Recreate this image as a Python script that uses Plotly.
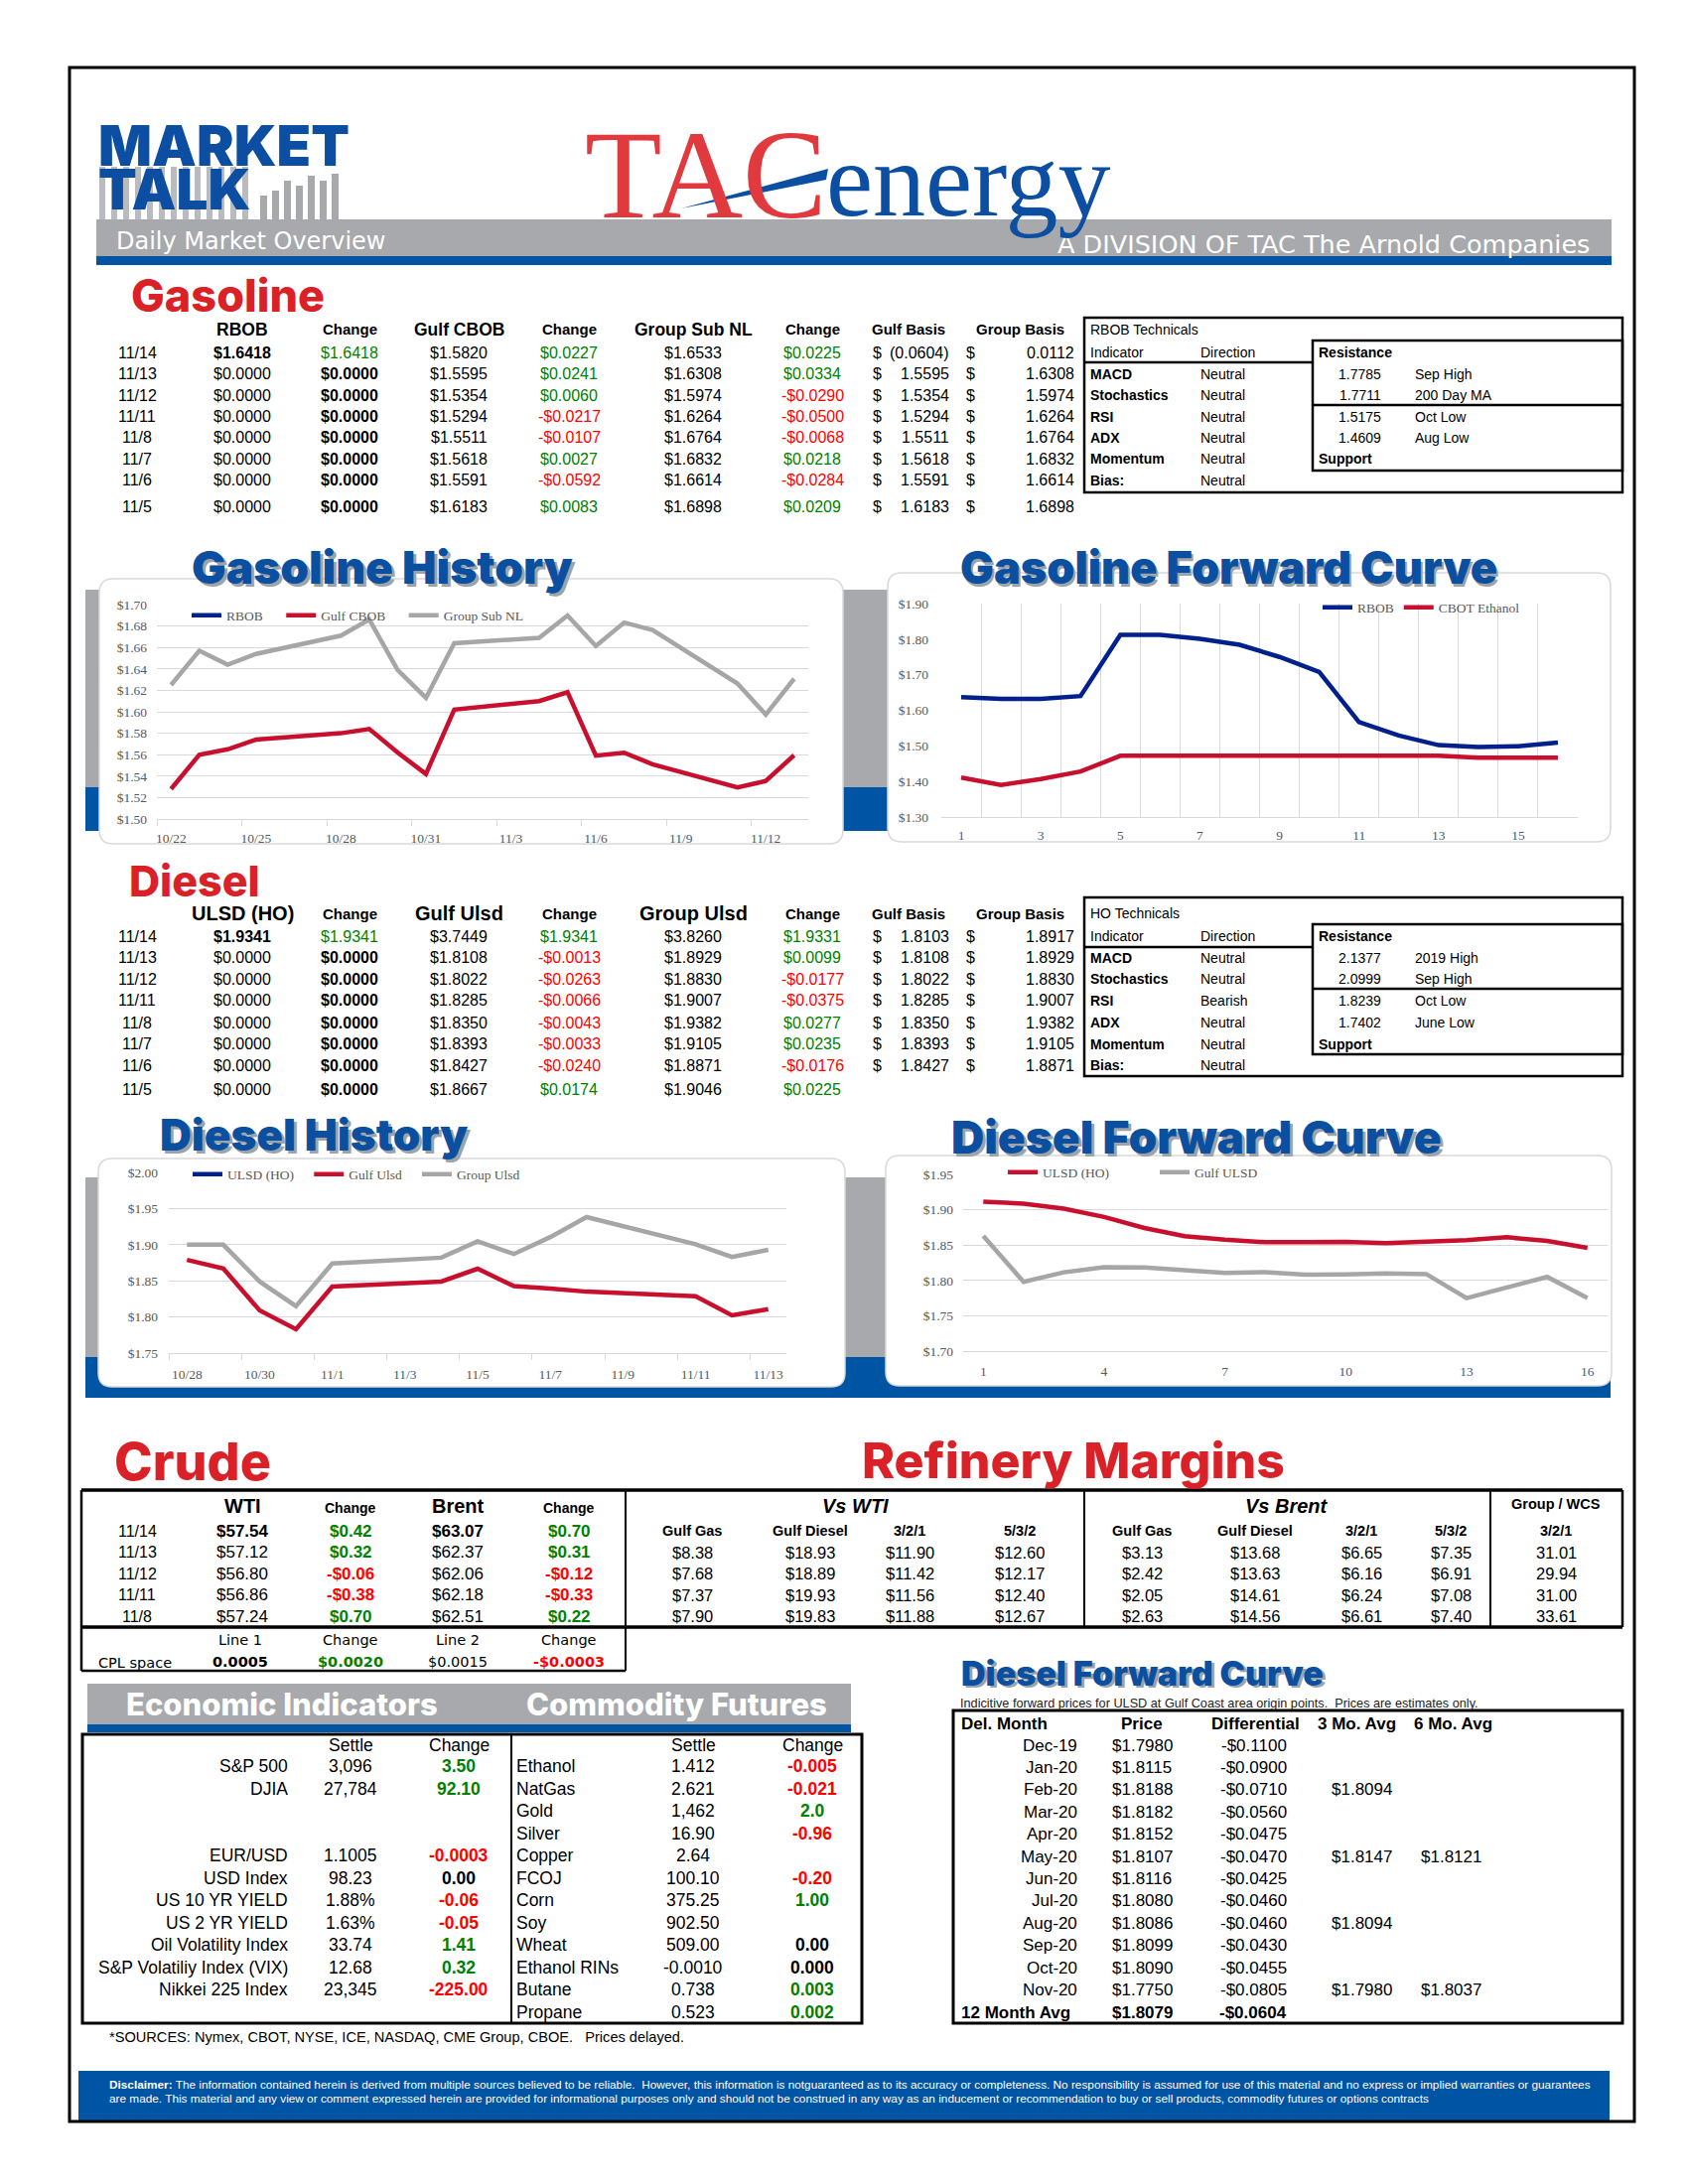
import plotly.graph_objects as go

W, H = 1700, 2200

NAVY = '#00208C'
LINE_RED = '#C8102E'
LINE_GRAY = '#A6A6A6'
TITLE_BLUE = '#0B50A0'
SEC_RED = '#DA2128'
BAND_GRAY = '#A7A9AC'
BAND_BLUE = '#0054A4'
GREEN = '#008000'
RED = '#FF0000'
GRID = '#D9D9D9'
AX_TXT = '#595959'

SANS = 'Liberation Sans, Arial, sans-serif'
SERIF = 'Liberation Serif, Times New Roman, serif'
HEAVY = 'Inter, Roboto, sans-serif'
VERD = 'DejaVu Sans, Verdana, sans-serif'
NB = '\u00a0'

# ---------------- gasoline table ----------------
gas_dates = ['11/14', '11/13', '11/12', '11/11', '11/8', '11/7', '11/6', '11/5']
rbob = [1.6418, 0.0, 0.0, 0.0, 0.0, 0.0, 0.0, 0.0]
rbob_chg = [1.6418, 0.0, 0.0, 0.0, 0.0, 0.0, 0.0, 0.0]
gulf_cbob = [1.5820, 1.5595, 1.5354, 1.5294, 1.5511, 1.5618, 1.5591, 1.6183]
gulf_cbob_chg = [0.0227, 0.0241, 0.0060, -0.0217, -0.0107, 0.0027, -0.0592, 0.0083]
group_subnl = [1.6533, 1.6308, 1.5974, 1.6264, 1.6764, 1.6832, 1.6614, 1.6898]
group_subnl_chg = [0.0225, 0.0334, -0.0290, -0.0500, -0.0068, 0.0218, -0.0284, 0.0209]
gas_gulf_basis = [-0.0604, 1.5595, 1.5354, 1.5294, 1.5511, 1.5618, 1.5591, 1.6183]
gas_group_basis = [0.0112, 1.6308, 1.5974, 1.6264, 1.6764, 1.6832, 1.6614, 1.6898]

tech_indicators = ['MACD', 'Stochastics', 'RSI', 'ADX', 'Momentum', 'Bias:']
rbob_tech_dir = ['Neutral', 'Neutral', 'Neutral', 'Neutral', 'Neutral', 'Neutral']
rbob_levels = [1.7785, 1.7711, 1.5175, 1.4609]
rbob_level_names = ['Sep High', '200 Day MA', 'Oct Low', 'Aug Low']

# ---------------- diesel table ----------------
dsl_dates = ['11/14', '11/13', '11/12', '11/11', '11/8', '11/7', '11/6', '11/5']
ulsd = [1.9341, 0.0, 0.0, 0.0, 0.0, 0.0, 0.0, 0.0]
ulsd_chg = [1.9341, 0.0, 0.0, 0.0, 0.0, 0.0, 0.0, 0.0]
gulf_ulsd = [3.7449, 1.8108, 1.8022, 1.8285, 1.8350, 1.8393, 1.8427, 1.8667]
gulf_ulsd_chg = [1.9341, -0.0013, -0.0263, -0.0066, -0.0043, -0.0033, -0.0240, 0.0174]
group_ulsd = [3.8260, 1.8929, 1.8830, 1.9007, 1.9382, 1.9105, 1.8871, 1.9046]
group_ulsd_chg = [1.9331, 0.0099, -0.0177, -0.0375, 0.0277, 0.0235, -0.0176, 0.0225]
dsl_gulf_basis = [1.8103, 1.8108, 1.8022, 1.8285, 1.8350, 1.8393, 1.8427]
dsl_group_basis = [1.8917, 1.8929, 1.8830, 1.9007, 1.9382, 1.9105, 1.8871]

ho_tech_dir = ['Neutral', 'Neutral', 'Bearish', 'Neutral', 'Neutral', 'Neutral']
ho_levels = [2.1377, 2.0999, 1.8239, 1.7402]
ho_level_names = ['2019 High', 'Sep High', 'Oct Low', 'June Low']

# ---------------- charts ----------------
gas_hist_dates = ['2019-10-22', '2019-10-23', '2019-10-24', '2019-10-25', '2019-10-28', '2019-10-29',
                  '2019-10-30', '2019-10-31', '2019-11-01', '2019-11-04', '2019-11-05', '2019-11-06',
                  '2019-11-07', '2019-11-08', '2019-11-11', '2019-11-12', '2019-11-13']
hist_rbob = [0, 0, 0, 0, 0, 0, 0, 0, 0, 0, 0, 0, 0, 0, 0, 0, 0]
hist_gulf_cbob = [1.528, 1.560, 1.565, 1.574, 1.580, 1.584, 1.562, 1.542, 1.602, 1.610,
                  1.6183, 1.5591, 1.5618, 1.5511, 1.5294, 1.5354, 1.5595]
hist_group_subnl = [1.625, 1.657, 1.644, 1.654, 1.671, 1.686, 1.639, 1.613, 1.664, 1.669,
                    1.6898, 1.6614, 1.6832, 1.6764, 1.6264, 1.5974, 1.6308]
gas_hist_tickvals = ['2019-10-22', '2019-10-25', '2019-10-28', '2019-10-31',
                     '2019-11-03', '2019-11-06', '2019-11-09', '2019-11-12']
gas_hist_ticktext = ['10/22', '10/25', '10/28', '10/31', '11/3', '11/6', '11/9', '11/12']

fwd_month = [1, 2, 3, 4, 5, 6, 7, 8, 9, 10, 11, 12, 13, 14, 15, 16]
fwd_rbob = [1.637, 1.632, 1.632, 1.640, 1.812, 1.812, 1.801, 1.784, 1.750, 1.708,
            1.567, 1.529, 1.502, 1.497, 1.499, 1.509]
fwd_ethanol = [1.411, 1.390, 1.407, 1.428, 1.472, 1.472, 1.472, 1.472, 1.472, 1.472,
               1.472, 1.472, 1.472, 1.467, 1.467, 1.467]
gas_fwd_ticks = [1, 3, 5, 7, 9, 11, 13, 15]

dsl_hist_dates = ['2019-10-28', '2019-10-29', '2019-10-30', '2019-10-31', '2019-11-01', '2019-11-04',
                  '2019-11-05', '2019-11-06', '2019-11-07', '2019-11-08', '2019-11-11', '2019-11-12',
                  '2019-11-13']
hist_ulsd = [0, 0, 0, 0, 0, 0, 0, 0, 0, 0, 0, 0, 0]
hist_gulf_ulsd = [1.879, 1.867, 1.809, 1.783, 1.842, 1.849, 1.8667, 1.8427, 1.8393, 1.8350,
                  1.8285, 1.8022, 1.8108]
hist_group_ulsd = [1.900, 1.900, 1.849, 1.815, 1.874, 1.882, 1.9046, 1.8871, 1.9105, 1.9382,
                   1.9007, 1.8830, 1.8929]
dsl_hist_tickvals = ['2019-10-28', '2019-10-30', '2019-11-01', '2019-11-03', '2019-11-05',
                     '2019-11-07', '2019-11-09', '2019-11-11', '2019-11-13']
dsl_hist_ticktext = ['10/28', '10/30', '11/1', '11/3', '11/5', '11/7', '11/9', '11/11', '11/13']

dfwd_ulsd = [1.9115, 1.9086, 1.9015, 1.8898, 1.8742, 1.8627, 1.8577, 1.8541, 1.8540, 1.8546,
             1.8529, 1.8545, 1.8570, 1.861, 1.856, 1.846]
dfwd_gulf = [1.863, 1.7980, 1.8115, 1.8188, 1.8182, 1.8152, 1.8107, 1.8116, 1.8080, 1.8086,
             1.8099, 1.8090, 1.7750, 1.790, 1.805, 1.775]
dsl_fwd_ticks = [1, 4, 7, 10, 13, 16]

# ---------------- crude / margins ----------------
crude_dates = ['11/14', '11/13', '11/12', '11/11', '11/8']
wti = [57.54, 57.12, 56.80, 56.86, 57.24]
wti_chg = [0.42, 0.32, -0.06, -0.38, 0.70]
brent = [63.07, 62.37, 62.06, 62.18, 62.51]
brent_chg = [0.70, 0.31, -0.12, -0.33, 0.22]
wti_gulf_gas = [8.38, 7.68, 7.37, 7.90]
wti_gulf_diesel = [18.93, 18.89, 19.93, 19.83]
wti_321 = [11.90, 11.42, 11.56, 11.88]
wti_532 = [12.60, 12.17, 12.40, 12.67]
brent_gulf_gas = [3.13, 2.42, 2.05, 2.63]
brent_gulf_diesel = [13.68, 13.63, 14.61, 14.56]
brent_321 = [6.65, 6.16, 6.24, 6.61]
brent_532 = [7.35, 6.91, 7.08, 7.40]
wcs_321 = [31.01, 29.94, 31.00, 33.61]
cpl_line1, cpl_line1_chg, cpl_line2, cpl_line2_chg = 0.0005, 0.0020, 0.0015, -0.0003

# ---------------- economic / commodity ----------------
econ_names = ['S&P 500', 'DJIA', '', '', 'EUR/USD', 'USD Index', 'US 10 YR YIELD', 'US 2 YR YIELD',
              'Oil Volatility Index', 'S&P Volatiliy Index (VIX)', 'Nikkei 225 Index']
econ_settle = ['3,096', '27,784', '', '', '1.1005', '98.23', '1.88%', '1.63%', '33.74', '12.68', '23,345']
econ_chg = [3.50, 92.10, None, None, -0.0003, 0.00, -0.06, -0.05, 1.41, 0.32, -225.00]
econ_dec = [2, 2, 0, 0, 4, 2, 2, 2, 2, 2, 2]
comm_names = ['Ethanol', 'NatGas', 'Gold', 'Silver', 'Copper', 'FCOJ', 'Corn', 'Soy', 'Wheat',
              'Ethanol RINs', 'Butane', 'Propane']
comm_settle = ['1.412', '2.621', '1,462', '16.90', '2.64', '100.10', '375.25', '902.50', '509.00',
               '-0.0010', '0.738', '0.523']
comm_chg = [-0.005, -0.021, 2.0, -0.96, None, -0.20, 1.00, None, 0.00, 0.000, 0.003, 0.002]
comm_dec = [3, 3, 1, 2, 0, 2, 2, 0, 2, 3, 3, 3]

# ---------------- diesel forward table ----------------
tbl_months = ['Dec-19', 'Jan-20', 'Feb-20', 'Mar-20', 'Apr-20', 'May-20', 'Jun-20', 'Jul-20',
              'Aug-20', 'Sep-20', 'Oct-20', 'Nov-20']
tbl_price = [1.7980, 1.8115, 1.8188, 1.8182, 1.8152, 1.8107, 1.8116, 1.8080, 1.8086, 1.8099, 1.8090, 1.7750]
tbl_diff = [-0.1100, -0.0900, -0.0710, -0.0560, -0.0475, -0.0470, -0.0425, -0.0460, -0.0460,
            -0.0430, -0.0455, -0.0805]
tbl_3mo = [None, None, 1.8094, None, None, 1.8147, None, None, 1.8094, None, None, 1.7980]
tbl_6mo = [None, None, None, None, None, 1.8121, None, None, None, None, None, 1.8037]
avg12_price, avg12_diff = 1.8079, -0.0604

# ---------------- helpers ----------------
ann = []
shp = []


def T(x, y, s, size=16, color='#000', anchor='center', fam=SANS, bold=False, weight=None, height=None):
    if bold:
        s = '<b>' + s + '</b>'
    f = dict(size=size, color=color, family=fam)
    if weight:
        f['weight'] = weight
    a = dict(x=x / W, y=1 - y / H, xref='paper', yref='paper', text=s, showarrow=False,
             xanchor=anchor, yanchor='middle', font=f)
    if height:
        a['height'] = height
    ann.append(a)


def R(x0, y0, x1, y1, fill='rgba(0,0,0,0)', line='rgba(0,0,0,0)', lw=0, layer='below'):
    shp.append(dict(type='rect', xref='paper', yref='paper', x0=x0 / W, x1=x1 / W, y0=1 - y0 / H,
                    y1=1 - y1 / H, fillcolor=fill, line=dict(color=line, width=lw), layer=layer))


def L(x0, y0, x1, y1, color='#000', lw=2.5):
    shp.append(dict(type='line', xref='paper', yref='paper', x0=x0 / W, x1=x1 / W, y0=1 - y0 / H,
                    y1=1 - y1 / H, line=dict(color=color, width=lw), layer='above'))


def pp(x, y):
    return f'{x / W:.5f},{1 - y / H:.5f}'


def RR(x0, y0, x1, y1, r=14):
    path = (f'M {pp(x0 + r, y0)} L {pp(x1 - r, y0)} Q {pp(x1, y0)} {pp(x1, y0 + r)} '
            f'L {pp(x1, y1 - r)} Q {pp(x1, y1)} {pp(x1 - r, y1)} L {pp(x0 + r, y1)} '
            f'Q {pp(x0, y1)} {pp(x0, y1 - r)} L {pp(x0, y0 + r)} Q {pp(x0, y0)} {pp(x0 + r, y0)} Z')
    shp.append(dict(type='path', xref='paper', yref='paper', path=path, fillcolor='white',
                    line=dict(color=GRID, width=1.5), layer='below'))


def money(v, d):
    return f'-${abs(v):.{d}f}' if v < 0 else f'${v:.{d}f}'


def acct(v):
    return f'({abs(v):.4f})' if v < 0 else f'{v:.4f}'


def scol(v):
    return GREEN if v > 0 else (RED if v < 0 else '#000')


def title_shadow(x, y, s, size, anchor='center', color=TITLE_BLUE, height=None):
    T(x + 2.5, y + 3, s, size, '#9DA3AA', anchor, HEAVY, weight=900, height=height)
    T(x, y, s, size, color, anchor, HEAVY, weight=900, height=height)


# ---------------- page frame & header ----------------
R(70, 68, 1646, 2137, line='#000', lw=3, layer='above')
for bx in range(100, 252, 12):
    R(bx, 168, bx + 6, 222, fill='#B9BBBE')
for bx, bt in [(262, 197), (274, 192), (286, 182), (298, 187), (310, 177), (322, 182), (334, 175)]:
    R(bx, bt, bx + 7, 222, fill='#A7A9AC')
R(97, 221, 1623, 258, fill=BAND_GRAY)
R(97, 258, 1623, 267, fill=BAND_BLUE)
T(97, 146, 'MARKET', 56.5, '#0B4EA2', 'left', HEAVY, weight=900, height=42)
T(97, 190, 'TALK', 56.5, '#0B4EA2', 'left', HEAVY, weight=900, height=42)
T(115, 243, 'Daily Market Overview', 24, 'white', 'left', VERD)
T(1603, 246, 'A DIVISION OF TAC The Arnold Companies', 25.5, 'white', 'right', VERD)
T(587, 176, 'TAC', 127, '#E03A3E', 'left', SERIF)
T(830, 181, 'energy', 106, '#0B4EA2', 'left', SERIF)
shp.append(dict(type='path', xref='paper', yref='paper',
                path=f'M {pp(686, 210)} L {pp(834, 170)} L {pp(832, 181)} Z',
                fillcolor='#0B4EA2', line=dict(width=0), layer='above'))

# ---------------- product tables ----------------
COLS = [244, 352, 462, 573, 698, 818]


def product_table(hdr_y, rows_y, heads, head_sizes, dates, main, main_chg, gulf, gulf_chg,
                  grp, grp_chg, basis_g, basis_grp):
    for cx, h, sz in zip(COLS, heads, head_sizes):
        T(cx, hdr_y, h, sz, bold=True)
    T(915, hdr_y, 'Gulf Basis', 15, bold=True)
    T(1027, hdr_y, 'Group Basis', 15, bold=True)
    for i, ry in enumerate(rows_y):
        T(138, ry, dates[i])
        T(COLS[0], ry, money(main[i], 4), bold=(i == 0))
        T(COLS[2], ry, money(gulf[i], 4))
        T(COLS[4], ry, money(grp[i], 4))
        for cx, v in ((COLS[1], main_chg[i]), (COLS[3], gulf_chg[i]), (COLS[5], grp_chg[i])):
            T(cx, ry, money(v, 4), color=scol(v), bold=(v == 0))
        if i < len(basis_g):
            T(883, ry, '$')
            T(958, ry, acct(basis_g[i]), anchor='right')
            T(977, ry, '$')
            T(1084, ry, acct(basis_grp[i]), anchor='right')


def tech_box(top, bot, res_top, res_mid, res_bot, ind_line, hdr_y, rows_y, title, dirs, levels, names):
    x0, x1, xm = 1092, 1634, 1322
    R(x0, top, x1, bot, line='#000', lw=2.5, layer='above')
    L(x0, ind_line, xm, ind_line)
    R(xm, res_top, x1, res_bot, line='#000', lw=2.5, layer='above')
    L(xm, res_mid, x1, res_mid)
    T(1096, hdr_y, title, 14, anchor='left')
    T(1096, rows_y[0], 'Indicator', 14, anchor='left')
    T(1207, rows_y[0], 'Direction', 14, anchor='left')
    T(1326, rows_y[0], 'Resistance', 14, anchor='left', bold=True)
    for k, nm in enumerate(tech_indicators):
        T(1096, rows_y[k + 1], nm, 14, anchor='left', bold=True)
        T(1207, rows_y[k + 1], dirs[k], 14, anchor='left')
    for k, v in enumerate(levels):
        T(1393, rows_y[k + 1], f'{v:.4f}', 14, anchor='right')
        T(1423, rows_y[k + 1], names[k], 14, anchor='left')
    T(1326, rows_y[5], 'Support', 14, anchor='left', bold=True)


T(130, 297, 'Gasoline', 45, SEC_RED, 'left', HEAVY, weight=800)
gas_rows = [355, 376.5, 398, 419.5, 441, 462.5, 484, 510]
product_table(332, gas_rows, ['RBOB', 'Change', 'Gulf CBOB', 'Change', 'Group Sub NL', 'Change'],
              [17.5, 15, 17.5, 15, 17.5, 15], gas_dates, rbob, rbob_chg, gulf_cbob, gulf_cbob_chg,
              group_subnl, group_subnl_chg, gas_gulf_basis, gas_group_basis)
tech_box(320, 496, 343, 408, 474, 365, 332, gas_rows, 'RBOB Technicals', rbob_tech_dir,
         rbob_levels, rbob_level_names)

T(128, 887, 'Diesel', 43, SEC_RED, 'left', HEAVY, weight=800)
dsl_rows = [943, 964.5, 986, 1007.5, 1030, 1051.5, 1073, 1097]
product_table(920, dsl_rows, ['ULSD (HO)', 'Change', 'Gulf Ulsd', 'Change', 'Group Ulsd', 'Change'],
              [20, 15, 20, 15, 20, 15], dsl_dates, ulsd, ulsd_chg, gulf_ulsd, gulf_ulsd_chg,
              group_ulsd, group_ulsd_chg, dsl_gulf_basis, dsl_group_basis)
tech_box(904, 1084, 931, 996, 1062, 954, 920, dsl_rows, 'HO Technicals', ho_tech_dir,
         ho_levels, ho_level_names)

# ---------------- chart frames ----------------
R(86, 594, 894, 793, fill=BAND_GRAY)
R(86, 793, 894, 837, fill=BAND_BLUE)
RR(100, 583, 849, 850)
RR(894, 577, 1622, 848)
R(86, 1186, 1622, 1367, fill=BAND_GRAY)
R(86, 1367, 1622, 1408, fill=BAND_BLUE)
RR(99, 1167, 851, 1397)
RR(892, 1164, 1623, 1396)
title_shadow(385, 571, 'Gasoline History', 46)
title_shadow(1237, 571, 'Gasoline Forward Curve', 45)
title_shadow(316, 1143, 'Diesel History', 44)
title_shadow(1205, 1145, 'Diesel Forward Curve', 46, height=38)

# ---------------- crude & margins ----------------
T(113, 1472, 'Crude', 52, SEC_RED, 'left', HEAVY, weight=800)
T(866, 1471, 'Refinery Margins', 50, SEC_RED, 'left', HEAVY, weight=800)
L(82, 1501, 1634, 1501, lw=3.5)
L(82, 1639, 1634, 1639, lw=3.5)
L(82, 1501, 82, 1683, lw=2.5)
L(1634, 1501, 1634, 1639, lw=2.5)
L(630, 1501, 630, 1683, lw=2)
L(1092, 1501, 1092, 1639, lw=2)
L(1501, 1501, 1501, 1639, lw=2)
L(82, 1683, 630, 1683, lw=2.5)

T(244, 1517, 'WTI', 20, bold=True)
T(353, 1519, 'Change', 14, bold=True)
T(461, 1517, 'Brent', 20, bold=True)
T(573, 1519, 'Change', 14, bold=True)
crude_rows = [1542, 1563.5, 1585, 1606.5, 1628]
for i, ry in enumerate(crude_rows):
    T(138, ry, crude_dates[i])
    T(244, ry, money(wti[i], 2), 17, bold=(i == 0))
    T(353, ry, money(wti_chg[i], 2), 17, scol(wti_chg[i]), bold=True)
    T(461, ry, money(brent[i], 2), 17, bold=(i == 0))
    T(573, ry, money(brent_chg[i], 2), 17, scol(brent_chg[i]), bold=True)

T(861, 1517, '<i>Vs WTI</i>', 20, bold=True)
T(1296, 1517, '<i>Vs Brent</i>', 20, bold=True)
T(1567, 1515, 'Group / WCS', 14.5, bold=True)
sub_x = [697, 816, 916, 1027, 1150, 1264, 1371, 1461, 1567]
sub_t = ['Gulf Gas', 'Gulf Diesel', '3/2/1', '5/3/2', 'Gulf Gas', 'Gulf Diesel', '3/2/1', '5/3/2', '3/2/1']
for sx, st in zip(sub_x, sub_t):
    T(sx, 1542, st, 14.5, bold=True)
margin_cols = [wti_gulf_gas, wti_gulf_diesel, wti_321, wti_532,
               brent_gulf_gas, brent_gulf_diesel, brent_321, brent_532]
for sx, col in zip(sub_x, margin_cols):
    for k, v in enumerate(col):
        T(sx, crude_rows[k + 1], f'${v:.2f}', 16.5)
for k, v in enumerate(wcs_321):
    T(1567, crude_rows[k + 1], f'{v:.2f}', 16.5)

T(242, 1652, 'Line 1', 14.5, fam=VERD)
T(353, 1652, 'Change', 14.5, fam=VERD)
T(461, 1652, 'Line 2', 14.5, fam=VERD)
T(573, 1652, 'Change', 14.5, fam=VERD)
T(97, 1675, 'CPL space', 14.5, anchor='left', fam=VERD)
T(242, 1674, f'{cpl_line1:.4f}', 14.5, fam=VERD, bold=True)
T(353, 1674, money(cpl_line1_chg, 4), 14.5, scol(cpl_line1_chg), fam=VERD, bold=True)
T(461, 1674, money(cpl_line2, 4), 14.5, fam=VERD)
T(573, 1674, money(cpl_line2_chg, 4), 14.5, scol(cpl_line2_chg), fam=VERD, bold=True)

# ---------------- economic indicators / commodity futures ----------------
R(88, 1696, 857, 1737, fill=BAND_GRAY)
R(88, 1737, 857, 1745, fill=BAND_BLUE)
T(284, 1716, 'Economic Indicators', 31, 'white', fam=HEAVY, weight=800)
T(681, 1717, 'Commodity Futures', 31, 'white', fam=HEAVY, weight=800)
R(83, 1747, 868, 2038, line='#000', lw=3, layer='above')
L(515, 1747, 515, 2038, lw=2)
for sx, st in [(353, 'Settle'), (462, 'Change'), (698, 'Settle'), (818, 'Change')]:
    T(sx, 1758, st, 17.5)
econ_rows = [1779 + 22.5 * k for k in range(12)]
for k, nm in enumerate(econ_names):
    if not nm:
        continue
    T(292, econ_rows[k], nm, 17.5, anchor='right')
    T(353, econ_rows[k], econ_settle[k], 17.5)
    v = econ_chg[k]
    T(462, econ_rows[k], f'{v:.{econ_dec[k]}f}', 17.5, scol(v), bold=True)
for k, nm in enumerate(comm_names):
    T(518, econ_rows[k], nm, 17.5, anchor='left')
    T(698, econ_rows[k], comm_settle[k], 17.5)
    v = comm_chg[k]
    if v is not None:
        T(818, econ_rows[k], f'{v:.{comm_dec[k]}f}', 17.5, scol(v), bold=True)
T(108, 2052, '*SOURCES: Nymex, CBOT, NYSE, ICE, NASDAQ, CME Group, CBOE.   Prices delayed.', 14.6, anchor='left')

# ---------------- diesel forward curve table ----------------
title_shadow(966, 1685, 'Diesel Forward Curve', 34, anchor='left')
T(965, 1716, 'Indicitive forward prices for ULSD at Gulf Coast area origin points.  Prices are estimates only.',
  12.7, '#222', 'left')
R(960, 1723, 1634, 2038, line='#000', lw=3, layer='above')
T(966, 1736, 'Del. Month', 17, anchor='left', bold=True)
for sx, st in [(1150, 'Price'), (1264, 'Differential'), (1366, '3 Mo. Avg'), (1463, '6 Mo. Avg')]:
    T(sx, 1736, st, 17, bold=True)
tbl_rows = [1758 + 22.4 * k for k in range(12)]
for k, m in enumerate(tbl_months):
    ry = tbl_rows[k]
    T(1087, ry, m, 17, anchor='right')
    T(1150, ry, f'${tbl_price[k]:.4f}', 17)
    T(1298, ry, f'-${abs(tbl_diff[k]):.4f}', 17, anchor='right')
    if tbl_3mo[k] is not None:
        T(1371, ry, f'${tbl_3mo[k]:.4f}', 17)
    if tbl_6mo[k] is not None:
        T(1461, ry, f'${tbl_6mo[k]:.4f}', 17)
T(966, 2027, '12 Month Avg', 17, anchor='left', bold=True)
T(1150, 2027, f'${avg12_price:.4f}', 17, bold=True)
T(1298, 2027, f'-${abs(avg12_diff):.4f}', 17, anchor='right', bold=True)

# ---------------- footer ----------------
R(79, 2086, 1621, 2136, fill=BAND_BLUE)
T(108, 2100, '<b>Disclaimer:</b> The information contained herein is derived from multiple sources believed to be reliable.  '
  'However, this information is notguaranteed as to its accuracy or completeness. No responsibility is assumed for use '
  'of this material and no express or implied warranties or guarantees', 11.8, 'white', 'left')
T(108, 2114, 'are made. This material and any view or comment expressed herein are provided for informational purposes only '
  'and should not be construed in any way as an inducement or recommendation to buy or sell products, commodity futures '
  'or options contracts', 11.8, 'white', 'left')

# ---------------- traces ----------------
fig = go.Figure()
pad = NB * 4
pad2 = NB * 3
LW = 4.5
fig.add_trace(go.Scatter(x=gas_hist_dates, y=hist_rbob, name='RBOB' + pad, mode='lines',
                         line=dict(color=NAVY, width=LW), xaxis='x', yaxis='y', legend='legend'))
fig.add_trace(go.Scatter(x=gas_hist_dates, y=hist_gulf_cbob, name='Gulf CBOB' + pad, mode='lines',
                         line=dict(color=LINE_RED, width=LW), xaxis='x', yaxis='y', legend='legend'))
fig.add_trace(go.Scatter(x=gas_hist_dates, y=hist_group_subnl, name='Group Sub NL', mode='lines',
                         line=dict(color=LINE_GRAY, width=LW), xaxis='x', yaxis='y', legend='legend'))

fig.add_trace(go.Scatter(x=fwd_month, y=fwd_rbob, name='RBOB', mode='lines',
                         line=dict(color=NAVY, width=LW), xaxis='x2', yaxis='y2', legend='legend2'))
fig.add_trace(go.Scatter(x=fwd_month, y=fwd_ethanol, name='CBOT Ethanol', mode='lines',
                         line=dict(color=LINE_RED, width=LW), xaxis='x2', yaxis='y2', legend='legend2'))

fig.add_trace(go.Scatter(x=dsl_hist_dates, y=hist_ulsd, name='ULSD (HO)' + pad2, mode='lines',
                         line=dict(color=NAVY, width=LW), xaxis='x3', yaxis='y3', legend='legend3'))
fig.add_trace(go.Scatter(x=dsl_hist_dates, y=hist_gulf_ulsd, name='Gulf Ulsd' + pad2, mode='lines',
                         line=dict(color=LINE_RED, width=LW), xaxis='x3', yaxis='y3', legend='legend3'))
fig.add_trace(go.Scatter(x=dsl_hist_dates, y=hist_group_ulsd, name='Group Ulsd', mode='lines',
                         line=dict(color=LINE_GRAY, width=LW), xaxis='x3', yaxis='y3', legend='legend3'))

fig.add_trace(go.Scatter(x=fwd_month, y=dfwd_ulsd, name='ULSD (HO)', mode='lines',
                         line=dict(color=LINE_RED, width=LW), xaxis='x4', yaxis='y4', legend='legend4'))
fig.add_trace(go.Scatter(x=fwd_month, y=dfwd_gulf, name='Gulf ULSD', mode='lines',
                         line=dict(color=LINE_GRAY, width=LW), xaxis='x4', yaxis='y4', legend='legend4'))

TICKF = dict(family=SERIF, size=13.5, color=AX_TXT)
DAY = 86400000


def yax(top, bot, rng, dtick, grid, standoff, anchor):
    return dict(domain=[1 - bot / H, 1 - top / H], range=rng, dtick=dtick, tickprefix='$',
                tickformat='.2f', showgrid=grid, gridcolor=GRID, zeroline=False, showline=False,
                ticks='', tickfont=TICKF, ticklabelstandoff=standoff, fixedrange=True, anchor=anchor)


def legend(x, y, **kw):
    d = dict(x=x / W, y=1 - y / H, xanchor='left', yanchor='middle', orientation='h',
             font=dict(family=SERIF, size=13.5, color=AX_TXT), bgcolor='rgba(0,0,0,0)',
             itemwidth=30, tracegroupgap=0)
    d.update(kw)
    return d


fig.update_layout(
    width=W, height=H, margin=dict(l=0, r=0, t=0, b=0, autoexpand=False),
    paper_bgcolor='white', plot_bgcolor='rgba(0,0,0,0)', showlegend=True,
    xaxis=dict(domain=[158 / W, 814 / W], anchor='y', type='date',
               range=['2019-10-21 12:00', '2019-11-13 12:00'], tickvals=gas_hist_tickvals,
               ticktext=gas_hist_ticktext, showgrid=False, showline=True, linecolor=GRID, ticks='',
               tickfont=TICKF, ticklabelstandoff=7,
               minor=dict(ticks='outside', ticklen=6, tickcolor=GRID, tick0='2019-10-21 12:00',
                          dtick=3 * DAY, showgrid=False)),
    yaxis=yax(609, 825, [1.50, 1.70], 0.02, True, 9, 'x'),
    xaxis2=dict(domain=[948 / W, 1589 / W], anchor='y2', range=[0.5, 16.5], tickvals=gas_fwd_ticks,
                showgrid=False, showline=True, linecolor=GRID, ticks='', zeroline=False,
                tickfont=TICKF, ticklabelstandoff=6,
                minor=dict(tick0=0.5, dtick=1, showgrid=True, gridcolor=GRID, ticks='')),
    yaxis2=yax(608, 823, [1.30, 1.90], 0.10, False, 12, 'x2'),
    xaxis3=dict(domain=[170 / W, 792 / W], anchor='y3', type='date',
                range=['2019-10-27 12:00', '2019-11-13 12:00'], tickvals=dsl_hist_tickvals,
                ticktext=dsl_hist_ticktext, showgrid=False, showline=True, linecolor=GRID, ticks='',
                tickfont=TICKF, ticklabelstandoff=9,
                minor=dict(ticks='outside', ticklen=6, tickcolor=GRID, tick0='2019-10-27 12:00',
                           dtick=2 * DAY, showgrid=False)),
    yaxis3=yax(1181, 1363, [1.75, 2.00], 0.05, True, 10, 'x3'),
    xaxis4=dict(domain=[970 / W, 1619 / W], anchor='y4', range=[0.5, 16.5], tickvals=dsl_fwd_ticks,
                showgrid=False, showline=True, linecolor=GRID, ticks='', zeroline=False,
                tickfont=TICKF, ticklabelstandoff=8),
    yaxis4=yax(1183, 1361, [1.70, 1.95], 0.05, True, 9, 'x4'),
    legend=legend(188, 620),
    legend2=legend(1327, 612),
    legend3=legend(189, 1183),
    legend4=legend(1010, 1181, entrywidth=108, entrywidthmode='pixels'),
    annotations=ann,
    shapes=shp,
)

fig.write_html("out.html", config={'displayModeBar': False},
               post_script="document.body.style.margin='0px';")
